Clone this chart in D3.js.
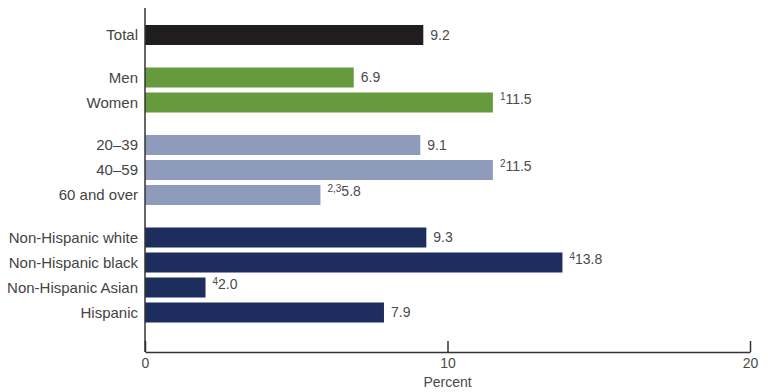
<!DOCTYPE html>
<html lang="en">
<head>
<meta charset="UTF-8">
<title>Percent by group</title>
<script src="https://d3js.org/d3.v7.min.js"></script>
<style>
  body { margin: 0; background: #fff; }
  text { font-family: "Liberation Sans", Arial, sans-serif; }
</style>
</head>
<body>
<svg width="768" height="392"></svg>
<script>
const categories = ["Total", "Men", "Women", "20\u201339", "40\u201359", "60 and over",
  "Non-Hispanic white", "Non-Hispanic black", "Non-Hispanic Asian", "Hispanic"];
const values = [9.2, 6.9, 11.5, 9.1, 11.5, 5.8, 9.3, 13.8, 2.0, 7.9];
const notes = ["", "", "1", "", "2", "2,3", "", "4", "4", ""];
const groups = [0, 1, 1, 2, 2, 2, 3, 3, 3, 3];
const groupColors = ["#1f1d1e", "#669a3c", "#8f9bba", "#1c2d5e"];
const xTicks = [0, 10, 20];

const svg = d3.select("svg");

const x = d3.scaleLinear().domain([0, 20]).range([145, 750]);
// row slot: index plus extra space between groups
const slot = (d, i) => i + groups[i] * 0.7;
const y = d3.scaleLinear().domain([0, 11.1]).range([35, 312.5]);
const barH = 20;

const rows = categories.map((c, i) => ({ c, v: values[i], n: notes[i], g: groups[i], s: slot(c, i) }));

svg.selectAll("rect.bar")
  .data(rows)
  .enter().append("rect")
  .attr("class", "bar")
  .attr("x", x(0))
  .attr("y", d => y(d.s) - barH / 2)
  .attr("width", d => x(d.v) - x(0))
  .attr("height", barH)
  .attr("fill", d => groupColors[d.g]);

// category labels
svg.selectAll("text.cat")
  .data(rows)
  .enter().append("text")
  .attr("class", "cat")
  .attr("x", 138)
  .attr("y", d => y(d.s))
  .attr("dy", "0.35em")
  .attr("text-anchor", "end")
  .attr("font-size", 15)
  .attr("fill", "#444")
  .text(d => d.c);

// value labels with footnote superscripts
const vl = svg.selectAll("text.val")
  .data(rows)
  .enter().append("text")
  .attr("class", "val")
  .attr("x", d => x(d.v) + 7)
  .attr("y", d => y(d.s))
  .attr("dy", "0.35em")
  .attr("font-size", 14)
  .attr("fill", "#4a4a4a");
vl.filter(d => d.n).append("tspan")
  .attr("font-size", 10)
  .attr("dy", "-0.3em")
  .text(d => d.n);
vl.append("tspan")
  .attr("dy", d => d.n ? "0.3em" : null)
  .text(d => d.v.toFixed(1));

// x axis with inward ticks
const xAxis = d3.axisBottom(x).tickValues(xTicks).tickSize(0).tickPadding(6);
const ax = svg.append("g").attr("transform", "translate(0,352)").call(xAxis);
ax.select(".domain").attr("stroke", "#333").attr("stroke-width", 1.5);
ax.selectAll(".tick text").attr("font-size", 14).attr("fill", "#4a4a4a")
  .attr("font-family", "Liberation Sans, Arial, sans-serif");
ax.selectAll(".tick").append("line")
  .attr("y1", 0).attr("y2", -11)
  .attr("stroke", "#333").attr("stroke-width", 1.5);

// y axis line
svg.append("line")
  .attr("x1", x(0)).attr("x2", x(0))
  .attr("y1", 8).attr("y2", 352)
  .attr("stroke", "#333").attr("stroke-width", 1.5);

svg.append("text")
  .attr("x", x(10))
  .attr("y", 387)
  .attr("text-anchor", "middle")
  .attr("font-size", 14)
  .attr("fill", "#4a4a4a")
  .text("Percent");
</script>
</body>
</html>
